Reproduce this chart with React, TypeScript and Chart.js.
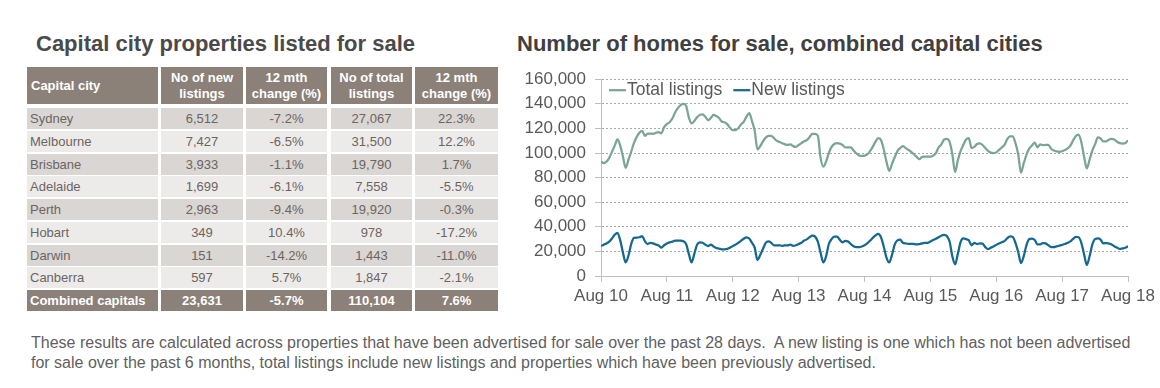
import React, { useEffect, useRef } from 'react';
import { Chart, registerables } from 'chart.js';

Chart.register(...registerables);

const FONT = '"Liberation Sans", Arial, Helvetica, sans-serif';

// ---------- Table data ----------
const tableHeaders = ['Capital city', 'No of new\nlistings', '12 mth\nchange (%)', 'No of total\nlistings', '12 mth\nchange (%)'];
const cities = ['Sydney', 'Melbourne', 'Brisbane', 'Adelaide', 'Perth', 'Hobart', 'Darwin', 'Canberra', 'Combined capitals'];
const newListingsByCity = ['6,512', '7,427', '3,933', '1,699', '2,963', '349', '151', '597', '23,631'];
const newListingsChange = ['-7.2%', '-6.5%', '-1.1%', '-6.1%', '-9.4%', '10.4%', '-14.2%', '5.7%', '-5.7%'];
const totalListingsByCity = ['27,067', '31,500', '19,790', '7,558', '19,920', '978', '1,443', '1,847', '110,104'];
const totalListingsChange = ['22.3%', '12.2%', '1.7%', '-5.5%', '-0.3%', '-17.2%', '-11.0%', '-2.1%', '7.6%'];

// ---------- Chart data (semi-monthly, Aug 2010 - Aug 2018) ----------
const yearLabels = ['Aug 10', 'Aug 11', 'Aug 12', 'Aug 13', 'Aug 14', 'Aug 15', 'Aug 16', 'Aug 17', 'Aug 18'];
const periodsPerYear = 24;

const totalListings = [
  93000, 91800, 93000, 96000, 101000, 106000, 111000, 106000, 97000, 88000, 94500, 101000,
  108000, 113000, 116500, 118000, 114000, 115800, 115800, 115600, 116500, 117000, 116000, 121000,
  123500, 125000, 128000, 133000, 136500, 139000, 140000, 138500, 129000, 124000, 126000, 129000,
  131000, 131500, 129500, 126700, 128500, 131000, 130000, 128500, 125600, 125000, 123500, 120500,
  118500, 118500, 120200, 123200, 125300, 129500, 132500, 126000, 118000, 103000, 105500, 109500,
  112500, 114000, 114000, 112200, 110000, 109000, 108000, 107000, 106600, 107000, 105600, 105000,
  106500, 108000, 109500, 110500, 113000, 115600, 115600, 114000, 96000, 89000, 93000, 100000,
  105000, 107300, 108000, 107600, 106500, 104500, 104500, 104500, 102000, 99800, 98000, 97600,
  97800, 98800, 101500, 105000, 109000, 112000, 110500, 103000, 93000, 85500, 91000, 96500,
  101500, 104000, 105600, 104000, 102500, 101000, 99000, 96800, 95000, 96800, 97000, 97000,
  97000, 97800, 99800, 104500, 107000, 111000, 111500, 109000, 99000, 84500, 94000, 101500,
  106500, 111000, 112000, 104000, 105000, 107300, 107800, 106500, 104000, 101800, 100300, 100000,
  100500, 102500, 104500, 106600, 111300, 113500, 113600, 108000, 99000, 84000, 91500, 98500,
  103500, 106000, 108500, 104600, 107000, 106400, 106600, 106600, 103400, 102000, 101300, 101000,
  101400, 102400, 103700, 106000, 110300, 113800, 115000, 108800, 97000, 87500, 94500, 102000,
  107000, 112800, 111800, 109500, 109400, 110800, 111500, 110900, 109200, 108000, 107700, 108000,
  110300,
];

const newListings = [
  24300, 25500, 26500, 28000, 30500, 33500, 35000, 29000, 19000, 11000, 16500, 26000,
  31000, 31200, 31500, 32500, 28300, 26000, 27000, 26500, 25500, 24800, 23000, 25000,
  26500, 27300, 28000, 28800, 28800, 28800, 28300, 26000, 18000, 11000, 18000, 25500,
  27300, 27000, 25500, 24300, 25500, 24000, 22800, 22300, 21700, 21700, 22000, 23000,
  24300, 25500, 27000, 28600, 30300, 31500, 30500, 27000, 23000, 13000, 17000, 22000,
  27000, 28200, 27000, 25000, 25000, 25000, 24500, 24800, 24800, 25500, 24500, 25000,
  26000, 27000, 28800, 29800, 31500, 32800, 32000, 28000, 19000, 11000, 16000, 26000,
  30000, 32000, 32000, 29400, 27300, 28500, 28000, 26000, 24200, 23500, 23500, 24000,
  25000, 26500, 28600, 31000, 33000, 34200, 31500, 24000, 15000, 11000, 17000, 25500,
  29000, 29500, 27000, 26500, 26200, 26200, 26000, 25700, 26000, 26500, 27000, 27000,
  28000, 29200, 30200, 31500, 32800, 33500, 32500, 28000, 16000, 9500, 18000, 27500,
  30500, 30000, 29000, 25000, 27000, 26000, 26500, 26300, 23500, 21800, 23000, 24000,
  25300, 26500, 27500, 28400, 30700, 32300, 31800, 27000, 19500, 10500, 16000, 25000,
  30000, 30300, 29300, 25800, 25700, 26800, 26500, 25000, 23500, 23500, 24100, 24700,
  25300, 26000, 27000, 28100, 30200, 31800, 31500, 27000, 17700, 9000, 16000, 25500,
  30000, 30500, 29600, 26500, 26800, 26400, 25700, 24200, 23100, 22000, 22400, 22900,
  24300,
];

const seriesLabels = ['Total listings', 'New listings'];
const seriesColors = ['#7aa596', '#15688f'];

// ---------- Layout ----------
const colX = [27, 161, 246, 331, 415];
const colW = [131, 82, 81, 81, 83];
const headerTop = 67;
const headerH = 37;
const rowTop0 = 108;
const rowPitch = 22.75;
const rowH = 21;

const headBg = '#8b8179';
const darkRow = '#dad6d4';
const lightRow = '#edebea';
const bodyText = '#6b6461';

function TableBlock() {
  const cells: React.ReactNode[] = [];
  tableHeaders.forEach((h, c) => {
    cells.push(
      <div
        key={'h' + c}
        style={{
          position: 'absolute',
          left: colX[c],
          top: headerTop,
          width: colW[c],
          height: headerH,
          background: headBg,
          color: '#ffffff',
          fontWeight: 'bold',
          fontSize: 13,
          lineHeight: '16px',
          display: 'flex',
          alignItems: 'center',
          justifyContent: c === 0 ? 'flex-start' : 'center',
          textAlign: c === 0 ? 'left' : 'center',
          paddingLeft: c === 0 ? 4 : 0,
          paddingTop: 1,
          boxSizing: 'border-box',
          whiteSpace: 'pre',
        }}
      >
        {h}
      </div>
    );
  });
  cities.forEach((city, r) => {
    const isTotal = r === cities.length - 1;
    const bg = isTotal ? headBg : r % 2 === 0 ? darkRow : lightRow;
    const vals = [city, newListingsByCity[r], newListingsChange[r], totalListingsByCity[r], totalListingsChange[r]];
    vals.forEach((v, c) => {
      cells.push(
        <div
          key={'r' + r + 'c' + c}
          style={{
            position: 'absolute',
            left: colX[c],
            top: rowTop0 + r * rowPitch,
            width: colW[c],
            height: rowH,
            background: bg,
            color: isTotal ? '#ffffff' : bodyText,
            fontWeight: isTotal ? 'bold' : 'normal',
            fontSize: 13,
            lineHeight: rowH + 'px',
            textAlign: c === 0 ? 'left' : 'center',
            paddingLeft: c === 0 ? 3 : 0,
            boxSizing: 'border-box',
            whiteSpace: 'nowrap',
          }}
        >
          {v}
        </div>
      );
    });
  });
  return <>{cells}</>;
}

export default function App() {
  const canvasRef = useRef<HTMLCanvasElement | null>(null);

  useEffect(() => {
    if (!canvasRef.current) return;
    const legendPlugin = {
      id: 'insideLegend',
      afterDraw(chart: any) {
        const { ctx, chartArea } = chart;
        ctx.save();
        ctx.font = `17.5px ${FONT}`;
        ctx.textBaseline = 'middle';
        ctx.textAlign = 'left';
        let x = chartArea.left + 8;
        const y = chartArea.top + 11;
        chart.data.datasets.forEach((ds: any) => {
          ctx.strokeStyle = ds.borderColor;
          ctx.lineWidth = 2.25;
          ctx.beginPath();
          ctx.moveTo(x, y);
          ctx.lineTo(x + 17, y);
          ctx.stroke();
          ctx.fillStyle = '#595959';
          ctx.fillText(ds.label, x + 18, y);
          x += 18 + ctx.measureText(ds.label).width + 11;
        });
        ctx.restore();
      },
    };

    const chart = new Chart(canvasRef.current, {
      type: 'line',
      data: {
        datasets: [
          {
            label: seriesLabels[0],
            data: totalListings.map((v, i) => ({ x: i, y: v })),
            borderColor: seriesColors[0],
            backgroundColor: seriesColors[0],
            borderWidth: 2.25,
            pointRadius: 0,
            cubicInterpolationMode: 'monotone',
            fill: false,
          },
          {
            label: seriesLabels[1],
            data: newListings.map((v, i) => ({ x: i, y: v })),
            borderColor: seriesColors[1],
            backgroundColor: seriesColors[1],
            borderWidth: 2.25,
            pointRadius: 0,
            cubicInterpolationMode: 'monotone',
            fill: false,
          },
        ],
      },
      options: {
        responsive: false,
        animation: false,
        layout: { padding: { left: 0, right: 32, top: 14, bottom: 10 } },
        plugins: {
          legend: { display: false },
          tooltip: { enabled: false },
        },
        scales: {
          x: {
            type: 'linear',
            min: 0,
            max: (yearLabels.length - 1) * periodsPerYear,
            afterFit: (s: any) => {
              s.height = 34;
            },
            ticks: {
              stepSize: periodsPerYear,
              autoSkip: false,
              maxRotation: 0,
              color: '#595959',
              font: { family: FONT, size: 17 },
              padding: 4,
              callback: (v: any) => {
                const idx = Math.round(Number(v) / periodsPerYear);
                return yearLabels[idx] ?? '';
              },
            },
            grid: {
              drawOnChartArea: false,
              drawTicks: true,
              tickLength: 6,
              color: '#bfbfbf',
            },
            border: { display: true, color: '#bfbfbf', width: 1 },
          },
          y: {
            type: 'linear',
            min: 0,
            max: 160000,
            afterFit: (s: any) => {
              s.width = 101;
            },
            ticks: {
              stepSize: 20000,
              color: '#595959',
              font: { family: FONT, size: 17 },
              padding: 9,
              callback: (v: any) => Number(v).toLocaleString('en-US'),
            },
            grid: {
              color: '#a8a8a8',
              lineWidth: 1,
              drawTicks: true,
              tickLength: 6,
              tickColor: '#bfbfbf',
            },
            border: { display: true, color: '#bfbfbf', width: 1, dash: [2, 2] },
          },
        },
      },
      plugins: [legendPlugin],
    } as any);

    return () => chart.destroy();
  }, []);

  return (
    <div
      style={{
        position: 'absolute',
        left: 0,
        top: 0,
        width: 1160,
        height: 388,
        background: '#ffffff',
        fontFamily: FONT,
        overflow: 'hidden',
      }}
    >
      <div
        style={{
          position: 'absolute',
          left: 36,
          top: 31,
          fontSize: 22,
          fontWeight: 'bold',
          color: '#4a4a4a',
          whiteSpace: 'nowrap',
        }}
      >
        Capital city properties listed for sale
      </div>
      <div
        style={{
          position: 'absolute',
          left: 517,
          top: 31,
          fontSize: 22,
          fontWeight: 'bold',
          color: '#404040',
          whiteSpace: 'nowrap',
        }}
      >
        Number of homes for sale, combined capital cities
      </div>

      <TableBlock />

      <canvas
        ref={canvasRef}
        width={660}
        height={260}
        style={{ position: 'absolute', left: 500, top: 60, width: 660, height: 260 }}
      />

      <div
        style={{
          position: 'absolute',
          left: 31,
          top: 333,
          fontSize: 16,
          lineHeight: '20px',
          color: '#5f5f5f',
          whiteSpace: 'pre',
        }}
      >
        {'These results are calculated across properties that have been advertised for sale over the past 28 days.  A new listing is one which has not been advertised\nfor sale over the past 6 months, total listings include new listings and properties which have been previously advertised.'}
      </div>
    </div>
  );
}
